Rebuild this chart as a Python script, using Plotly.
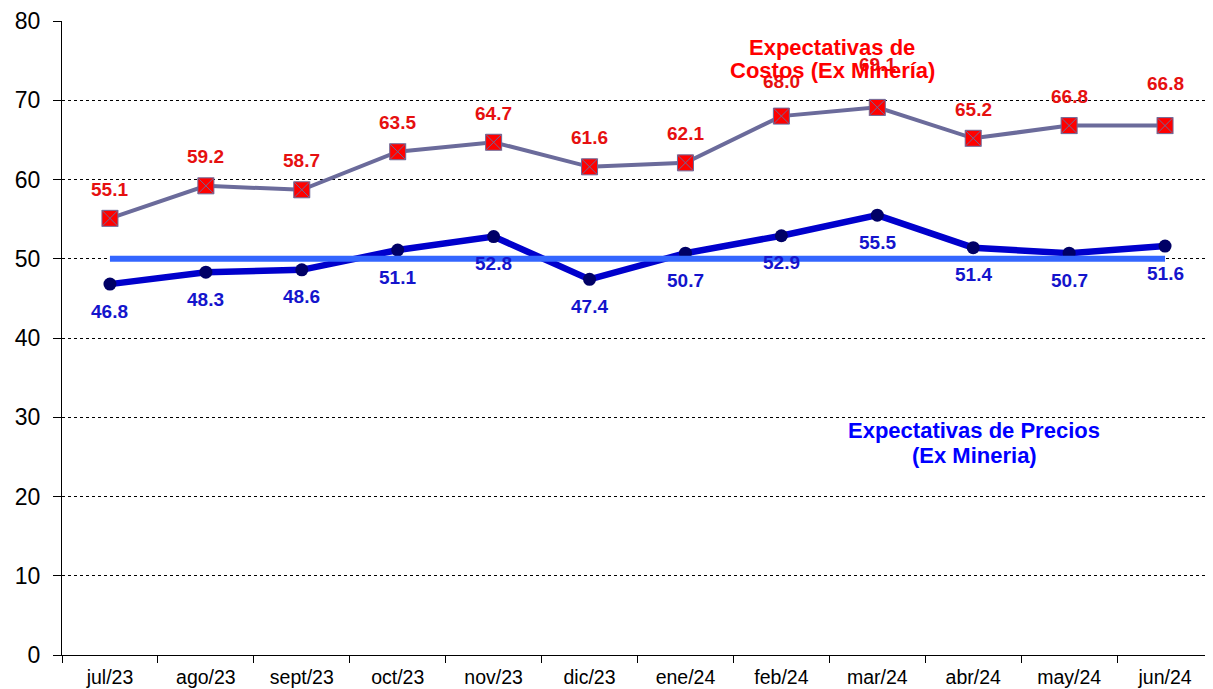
import plotly.graph_objects as go

categories = ["jul/23", "ago/23", "sept/23", "oct/23", "nov/23", "dic/23",
              "ene/24", "feb/24", "mar/24", "abr/24", "may/24", "jun/24"]
costos = [55.1, 59.2, 58.7, 63.5, 64.7, 61.6, 62.1, 68.0, 69.1, 65.2, 66.8, 66.8]
precios = [46.8, 48.3, 48.6, 51.1, 52.8, 47.4, 50.7, 52.9, 55.5, 51.4, 50.7, 51.6]
umbral = [50] * len(categories)
y_ticks = [0, 10, 20, 30, 40, 50, 60, 70, 80]

titulo_costos = ["Expectativas de", "Costos (Ex Minería)"]
titulo_precios = ["Expectativas de Precios", "(Ex Mineria)"]

# extra vertical offsets (px) for a few cost labels
cost_label_shift = {"feb/24": 6, "mar/24": 14, "jun/24": 13}

fig = go.Figure()

fig.add_trace(go.Scatter(
    x=categories, y=costos, mode="lines+markers",
    line=dict(color="#6B6B9B", width=4),
    marker=dict(symbol="square-x", size=16, color="#FF0000",
                line=dict(color="#6B6B9B", width=1)),
    showlegend=False, hoverinfo="x+y"))

fig.add_trace(go.Scatter(
    x=categories, y=precios, mode="lines+markers",
    line=dict(color="#0000CC", width=6.5),
    marker=dict(symbol="circle", size=13, color="#000066"),
    showlegend=False, hoverinfo="x+y"))

fig.add_trace(go.Scatter(
    x=categories, y=umbral, mode="lines",
    line=dict(color="#3366FF", width=6),
    showlegend=False, hoverinfo="skip"))

for c, v in zip(categories, costos):
    fig.add_annotation(x=c, y=v, text=f"<b>{v:.1f}</b>", showarrow=False,
                       yshift=29 + cost_label_shift.get(c, 0),
                       font=dict(family="Arial", size=19, color="#E61010"))
for c, v in zip(categories, precios):
    fig.add_annotation(x=c, y=v, text=f"<b>{v:.1f}</b>", showarrow=False,
                       yshift=-27,
                       font=dict(family="Arial", size=19, color="#1414CC"))

# plot area: x 62..1213, y 21..655 in page pixels
def px_x(p):
    return (p - 62) / 1151

def px_y(p):
    return (655 - p) / 634

for line, ypix in zip(titulo_costos, [48, 71]):
    fig.add_annotation(xref="paper", yref="paper", x=px_x(832), y=px_y(ypix),
                       xanchor="center", yanchor="middle",
                       text=f"<b>{line}</b>", showarrow=False,
                       font=dict(family="Arial", size=22, color="#FF0000"))
for line, ypix in zip(titulo_precios, [430, 455]):
    fig.add_annotation(xref="paper", yref="paper", x=px_x(974), y=px_y(ypix),
                       xanchor="center", yanchor="middle",
                       text=f"<b>{line}</b>", showarrow=False,
                       font=dict(family="Arial", size=22, color="#0000FF"))

fig.update_layout(
    width=1205, height=681,
    margin=dict(l=54, r=0, t=13, b=34),
    paper_bgcolor="white", plot_bgcolor="white",
    font=dict(family="Arial", color="black"),
    xaxis=dict(type="category", tickson="boundaries", ticks="outside",
               ticklen=7, tickcolor="black", showline=True, linecolor="black",
               linewidth=1, showgrid=False, tickfont=dict(size=19.5), range=[-0.5, 11.5],
               ticklabelstandoff=5, automargin=False),
    yaxis=dict(range=[0, 80], tickvals=y_ticks, showline=True, linecolor="black",
               linewidth=1, ticks="outside", ticklen=8, tickcolor="black",
               showgrid=True, gridcolor="black", gridwidth=1, griddash="dot",
               zeroline=False, tickfont=dict(size=23), ticklabelstandoff=8,
               automargin=False),
)

fig.write_html("out.html")
